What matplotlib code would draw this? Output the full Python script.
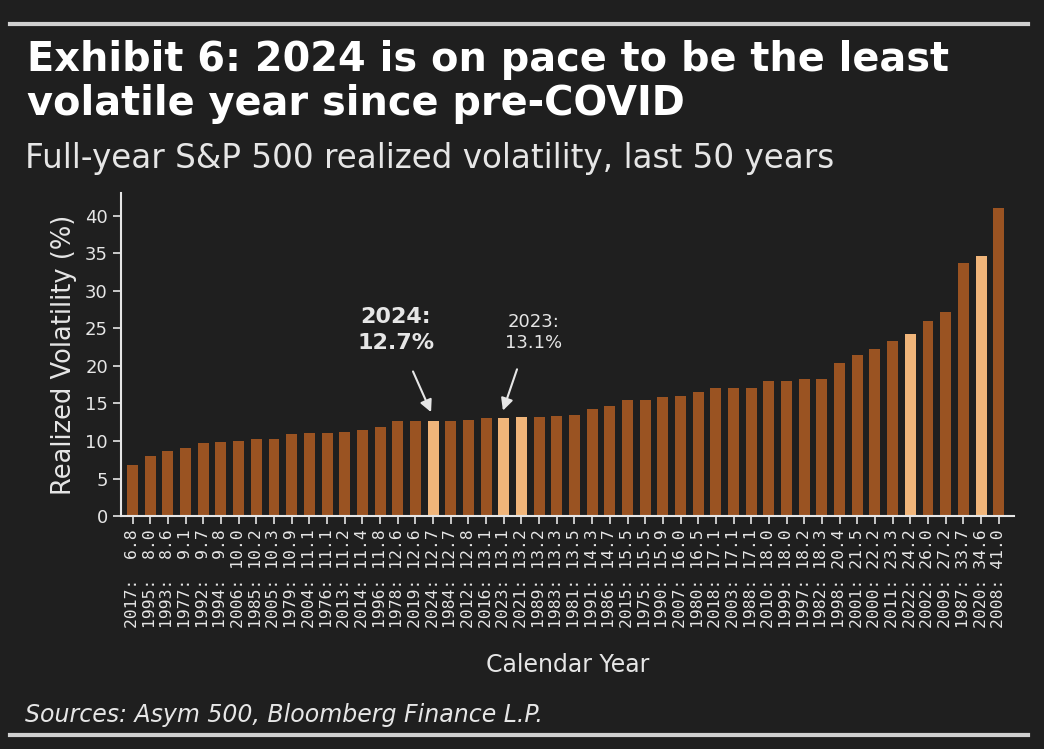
import numpy as np
import matplotlib.pyplot as plt

years = [2017, 1995, 1993, 1977, 1992, 1994, 2006, 1985, 2005, 1979,
         2004, 1976, 2013, 2014, 1996, 1978, 2019, 2024, 1984, 2012,
         2016, 2023, 2021, 1989, 1983, 1981, 1991, 1986, 2015, 1975,
         1990, 2007, 1980, 2018, 2003, 1988, 2010, 1999, 1997, 1982,
         1998, 2001, 2000, 2011, 2022, 2002, 2009, 1987, 2020, 2008]
vol = [6.8, 8.0, 8.6, 9.1, 9.7, 9.8, 10.0, 10.2, 10.3, 10.9,
       11.1, 11.1, 11.2, 11.4, 11.8, 12.6, 12.6, 12.7, 12.7, 12.8,
       13.1, 13.1, 13.2, 13.2, 13.3, 13.5, 14.3, 14.7, 15.5, 15.5,
       15.9, 16.0, 16.5, 17.1, 17.1, 17.1, 18.0, 18.0, 18.2, 18.3,
       20.4, 21.5, 22.2, 23.3, 24.2, 26.0, 27.2, 33.7, 34.6, 41.0]
recent = [2020, 2021, 2022, 2023, 2024]

bg = "#1f1f1f"
fg = "#e6e6e6"
dark = "#9a5322"
light = "#f0b57a"

fig = plt.figure(figsize=(10.44, 7.49), dpi=100, facecolor=bg)
ax = fig.add_axes([0.116, 0.311, 0.855, 0.431], facecolor=bg)

x = np.arange(len(years))
colors = [light if y in recent else dark for y in years]
ax.bar(x, vol, width=0.62, color=colors)

ax.set_xlim(-0.65, 49.85)
ax.set_ylim(0, 43)
ax.set_yticks(range(0, 41, 5))
ax.set_xticks(x)
ax.set_xticklabels([f"{y}: {v:4.1f}" for y, v in zip(years, vol)], rotation=90,
                   fontsize=11.8, family="DejaVu Sans Mono", color=fg)
ax.tick_params(axis="y", labelsize=13, colors=fg, length=6, width=1.2)
ax.tick_params(axis="x", colors=fg, length=6, width=1.2)
for s in ["top", "right"]:
    ax.spines[s].set_visible(False)
for s in ["left", "bottom"]:
    ax.spines[s].set_color(fg)
    ax.spines[s].set_linewidth(1.5)

ax.set_ylabel("Realized Volatility (%)", fontsize=18.5, color=fg, labelpad=6)
ax.set_xlabel("Calendar Year", fontsize=17, color=fg, labelpad=18)

i24 = years.index(2024)
i23 = years.index(2023)
ax.text(i24 - 2.1, 24.8, "2024:\n12.7%", fontsize=16, fontweight="bold",
        color=fg, ha="center", va="center", linespacing=1.4)
ax.text(i23 + 1.7, 24.4, "2023:\n13.1%", fontsize=13, color=fg,
        ha="center", va="center", linespacing=1.2)
arrow = dict(arrowstyle="-|>", color=fg, lw=1.5, mutation_scale=18)
ax.annotate("", xy=(i24 - 0.05, vol[i24] + 0.8), xytext=(i24 - 1.2, 19.6),
            arrowprops=arrow)
ax.annotate("", xy=(i23 - 0.1, vol[i23] + 0.6), xytext=(i23 + 0.8, 19.9),
            arrowprops=arrow)

fig.add_artist(plt.Line2D([0.01, 0.985], [0.968, 0.968], color="#d0d0d0", lw=3))
fig.add_artist(plt.Line2D([0.01, 0.985], [0.019, 0.019], color="#d0d0d0", lw=3))

fig.text(0.026, 0.947, "Exhibit 6: 2024 is on pace to be the least\nvolatile year since pre-COVID",
         fontsize=28.7, fontweight="bold", color="white", ha="left", va="top",
         linespacing=1.15)
fig.text(0.024, 0.788, "Full-year S&P 500 realized volatility, last 50 years",
         fontsize=23.5, color=fg, ha="left", va="center")
fig.text(0.024, 0.045, "Sources: Asym 500, Bloomberg Finance L.P.",
         fontsize=17, style="italic", color=fg, ha="left", va="center")

fig.savefig("out.png", dpi=100, facecolor=bg)
